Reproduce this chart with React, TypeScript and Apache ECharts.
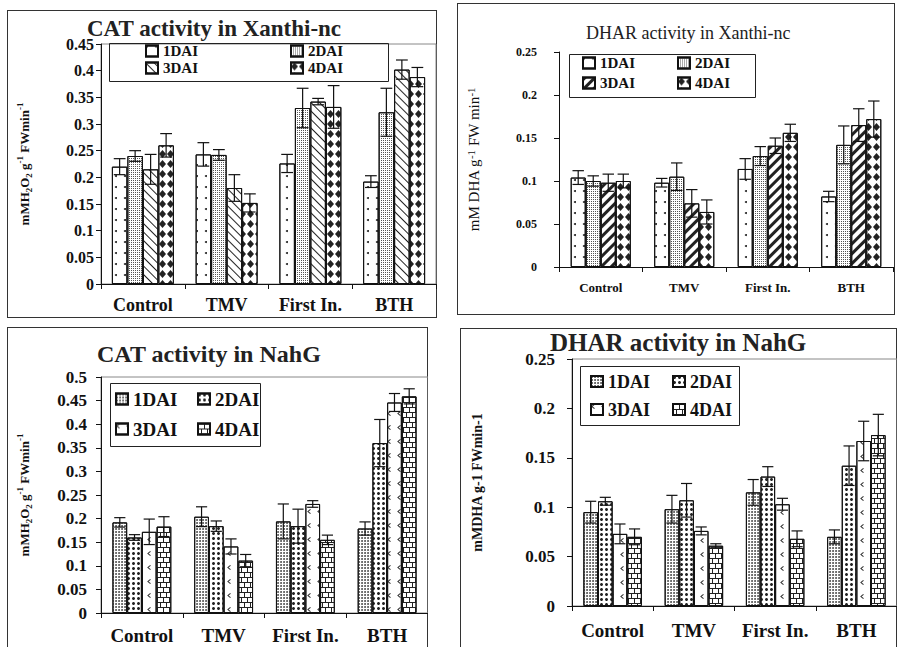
import React, { useEffect, useRef } from 'react';
import * as echarts from 'echarts';

// ---------- data ----------
const categories = ['Control', 'TMV', 'First In.', 'BTH'];
const seriesNames = ['1DAI', '2DAI', '3DAI', '4DAI'];

// CAT activity in Xanthi-nc (per series, across categories)
const catXanthiMeans = [
  [0.22, 0.243, 0.226, 0.192],
  [0.24, 0.242, 0.33, 0.322],
  [0.215, 0.18, 0.342, 0.402],
  [0.26, 0.152, 0.332, 0.388],
];
const catXanthiErrors = [
  [0.015, 0.022, 0.017, 0.011],
  [0.01, 0.01, 0.037, 0.045],
  [0.028, 0.025, 0.006, 0.018],
  [0.022, 0.017, 0.04, 0.018],
];

// DHAR activity in Xanthi-nc
const dharXanthiMeans = [
  [0.104, 0.098, 0.114, 0.082],
  [0.1, 0.105, 0.129, 0.142],
  [0.098, 0.074, 0.141, 0.165],
  [0.1, 0.064, 0.156, 0.172],
];
const dharXanthiErrors = [
  [0.008, 0.005, 0.012, 0.006],
  [0.006, 0.016, 0.011, 0.022],
  [0.01, 0.016, 0.009, 0.019],
  [0.008, 0.014, 0.01, 0.021],
];

// CAT activity in NahG
const catNahgMeans = [
  [0.192, 0.204, 0.194, 0.179],
  [0.16, 0.184, 0.184, 0.36],
  [0.172, 0.141, 0.231, 0.446],
  [0.183, 0.111, 0.155, 0.459],
];
const catNahgErrors = [
  [0.01, 0.021, 0.037, 0.014],
  [0.006, 0.011, 0.036, 0.05],
  [0.027, 0.016, 0.007, 0.019],
  [0.021, 0.013, 0.01, 0.016],
];

// DHAR activity in NahG
const dharNahgMeans = [
  [0.095, 0.098, 0.115, 0.07],
  [0.106, 0.107, 0.131, 0.142],
  [0.073, 0.076, 0.103, 0.167],
  [0.07, 0.061, 0.068, 0.173],
];
const dharNahgErrors = [
  [0.011, 0.014, 0.013, 0.007],
  [0.004, 0.017, 0.01, 0.02],
  [0.01, 0.004, 0.006, 0.02],
  [0.008, 0.002, 0.008, 0.021],
];

// ---------- styles ----------
const SERIF = 'Liberation Serif, Times New Roman, serif';

const dotsSparse = { symbol: 'circle', symbolSize: 1, dashArrayX: [2, 7], dashArrayY: [2, 9], color: '#222' };
const dotsDense = { symbol: 'rect', symbolSize: 1, dashArrayX: [1, 1], dashArrayY: [1, 1], color: '#555' };
const zigzag = { symbol: 'rect', symbolSize: 1, dashArrayX: [1, 0], dashArrayY: [1, 5], rotation: Math.PI / 4, color: '#222' };
const stripes = { symbol: 'rect', symbolSize: 1, dashArrayX: [1, 0], dashArrayY: [3, 4], rotation: -Math.PI / 4, color: '#222' };
const diamonds = { symbol: 'diamond', symbolSize: 1, dashArrayX: [7, 1], dashArrayY: [8, 2], color: '#222' };
const stipple = { symbol: 'circle', symbolSize: 0.9, dashArrayX: [2, 1], dashArrayY: [2, 1], color: '#444' };
const darkDots = { symbol: 'circle', symbolSize: 1, dashArrayX: [3, 2], dashArrayY: [3, 2], color: '#222' };
const chevrons = {
  symbol: 'path://M6,0 L0,5 L6,10 L7.5,8.7 L3,5 L7.5,1.3 Z',
  symbolSize: 1, dashArrayX: [4, 6], dashArrayY: [5, 9], color: '#333',
};
const bricks = {
  symbol: 'rect', symbolSize: 1,
  dashArrayX: [[1, 0], [1, 5], [1, 0], [0, 3, 1, 2]],
  dashArrayY: [1, 0, 4, 0, 1, 0, 4, 0],
  color: '#222',
};

type PanelCfg = {
  box: [number, number, number, number];
  title: string;
  titleLeft: number;
  titleTop: number;
  titleSize: number;
  titleWeight: string;
  yName: string;
  yNameSize: number;
  yNameWeight: string;
  yNameGap: number;
  yMax: number;
  grid: { left: number; top: number; right: number; bottom: number };
  gridBorder: boolean;
  tickSize: number;
  tickMargin: number;
  catSize: number;
  catMargin: number;
  legendSize: number;
  legendBox: [number, number, number, number];
  legendX: [number, number];
  legendY: [number, number];
  decals: any[];
  means: number[][];
  errors: number[][];
  catGap: number;
};

const panels: PanelCfg[] = [
  {
    box: [7, 10, 430, 308],
    title: 'CAT activity in Xanthi-nc',
    titleLeft: 80, titleTop: 7, titleSize: 23, titleWeight: 'bold',
    yName: 'mMH{sub|2}O{sub|2} g{sup|-1} FWmin{sup|-1}', yNameSize: 13, yNameWeight: 'bold', yNameGap: 68,
    yMax: 0.45,
    grid: { left: 90, top: 34, right: 1, bottom: 34 }, gridBorder: true,
    tickSize: 16, tickMargin: 7, catSize: 18, catMargin: 12,
    legendSize: 15, legendBox: [100, 31, 279, 38], legendX: [138, 283], legendY: [41, 58],
    decals: [dotsSparse, dotsDense, zigzag, diamonds],
    means: catXanthiMeans, errors: catXanthiErrors, catGap: 0.26,
  },
  {
    box: [457, 3, 438, 312],
    title: 'DHAR activity in Xanthi-nc',
    titleLeft: 129, titleTop: 21, titleSize: 18, titleWeight: 'normal',
    yName: 'mM DHA g{sup|-1} FW min{sup|-1}', yNameSize: 15, yNameWeight: 'normal', yNameGap: 76,
    yMax: 0.25,
    grid: { left: 100, top: 49, right: 2, bottom: 48 }, gridBorder: false,
    tickSize: 12, tickMargin: 22, catSize: 13, catMargin: 14,
    legendSize: 15, legendBox: [110, 49, 186, 43], legendX: [125, 220], legendY: [60, 80],
    decals: [dotsSparse, dotsDense, stripes, diamonds],
    means: dharXanthiMeans, errors: dharXanthiErrors, catGap: 0.28,
  },
  {
    box: [7, 327, 421, 320],
    title: 'CAT activity in NahG',
    titleLeft: 90, titleTop: 15, titleSize: 24, titleWeight: 'bold',
    yName: 'mMH{sub|2}O{sub|2} g{sup|-1} FWmin{sup|-1}', yNameSize: 13, yNameWeight: 'bold', yNameGap: 68,
    yMax: 0.5,
    grid: { left: 90, top: 50, right: 0, bottom: 34 }, gridBorder: true,
    tickSize: 17, tickMargin: 14, catSize: 19, catMargin: 13,
    legendSize: 19, legendBox: [101, 54, 150, 63], legendX: [108, 190], legendY: [70, 100],
    decals: [stipple, darkDots, chevrons, bricks],
    means: catNahgMeans, errors: catNahgErrors, catGap: 0.28,
  },
  {
    box: [460, 328, 437, 319],
    title: 'DHAR activity in NahG',
    titleLeft: 90, titleTop: 2, titleSize: 25, titleWeight: 'bold',
    yName: 'mMDHA g-1 FWmin-1', yNameSize: 14, yNameWeight: 'bold', yNameGap: 86,
    yMax: 0.25,
    grid: { left: 105, top: 31, right: 0, bottom: 41 }, gridBorder: true,
    tickSize: 17, tickMargin: 17, catSize: 19, catMargin: 15,
    legendSize: 18, legendBox: [118, 36, 159, 59], legendX: [130, 212], legendY: [52, 80],
    decals: [stipple, darkDots, chevrons, bricks],
    means: dharNahgMeans, errors: dharNahgErrors, catGap: 0.28,
  },
];

function buildOption(p: PanelCfg): any {
  const nSeries = seriesNames.length;
  const bars = seriesNames.map((name, i) => ({
    type: 'bar',
    name,
    data: p.means[i],
    barGap: '0%',
    barCategoryGap: `${Math.round(p.catGap * 100)}%`,
    itemStyle: { color: '#fff', borderColor: '#111', borderWidth: 1, decal: p.decals[i] },
    emphasis: { disabled: true },
  }));

  const errData: number[][] = [];
  seriesNames.forEach((_, si) => {
    categories.forEach((_, ci) => {
      errData.push([ci, p.means[si][ci], p.errors[si][ci], si]);
    });
  });

  const errSeries = {
    type: 'custom',
    name: 'error',
    z: 10,
    silent: true,
    encode: { x: 0, y: 1 },
    data: errData,
    renderItem: (params: any, api: any) => {
      const cat = api.value(0);
      const val = api.value(1);
      const err = api.value(2);
      const si = api.value(3);
      const band = api.size([1, 0])[0];
      const barW = (band * (1 - p.catGap)) / nSeries;
      const cx = api.coord([cat, 0])[0] + (si - (nSeries - 1) / 2) * barW;
      const top = api.coord([cat, val + err])[1];
      const bot = api.coord([cat, val - err])[1];
      const hw = barW * 0.38;
      const style = { stroke: '#111', lineWidth: 1.2 };
      return {
        type: 'group',
        children: [
          { type: 'line', shape: { x1: cx, y1: top, x2: cx, y2: bot }, style },
          { type: 'line', shape: { x1: cx - hw, y1: top, x2: cx + hw, y2: top }, style },
          { type: 'line', shape: { x1: cx - hw, y1: bot, x2: cx + hw, y2: bot }, style },
        ],
      };
    },
  };

  const lh = Math.min(p.legendSize, 15);
  const legends = seriesNames.map((name, i) => ({
    data: [name],
    left: p.legendX[i % 2],
    top: p.legendY[Math.floor(i / 2)] - lh / 2,
    padding: 0,
    icon: 'rect',
    itemWidth: 12,
    itemHeight: 11,
    itemGap: 5,
    selectedMode: false,
    textStyle: { fontFamily: SERIF, fontWeight: 'bold', fontSize: p.legendSize, color: '#111', lineHeight: lh },
  }));

  const richBase = { fontFamily: SERIF, fontWeight: p.yNameWeight, color: '#111' };

  return {
    animation: false,
    backgroundColor: 'transparent',
    textStyle: { fontFamily: SERIF },
    title: {
      text: p.title,
      left: p.titleLeft,
      top: p.titleTop,
      padding: 0,
      textStyle: { fontFamily: SERIF, fontWeight: p.titleWeight, fontSize: p.titleSize, color: '#222' },
    },
    legend: legends,
    graphic: [
      {
        type: 'rect',
        left: p.legendBox[0],
        top: p.legendBox[1],
        silent: true,
        shape: { width: p.legendBox[2], height: p.legendBox[3] },
        style: { fill: 'none', stroke: '#222', lineWidth: 1 },
      },
    ],
    grid: {
      ...p.grid,
      show: p.gridBorder,
      borderColor: '#888',
      borderWidth: p.gridBorder ? 1 : 0,
      backgroundColor: 'transparent',
    },
    xAxis: {
      type: 'category',
      data: categories,
      axisLine: { lineStyle: { color: '#111', width: 1 } },
      axisTick: { show: true, length: 5, lineStyle: { color: '#111' } },
      axisLabel: {
        fontFamily: SERIF, fontWeight: 'bold', fontSize: p.catSize, color: '#111', margin: p.catMargin,
        interval: 0,
      },
    },
    yAxis: {
      type: 'value',
      min: 0,
      max: p.yMax,
      interval: 0.05,
      name: p.yName,
      nameLocation: 'middle',
      nameGap: p.yNameGap,
      nameRotate: 90,
      nameTextStyle: {
        ...richBase,
        fontSize: p.yNameSize,
        lineHeight: 18,
        rich: {
          sup: { ...richBase, fontSize: Math.round(p.yNameSize * 0.7), lineHeight: 10, verticalAlign: 'top' },
          sub: { ...richBase, fontSize: Math.round(p.yNameSize * 0.7), lineHeight: 10, verticalAlign: 'bottom' },
        },
      },
      axisLine: { show: true, lineStyle: { color: '#111', width: 1 } },
      axisTick: { show: true, length: 5, lineStyle: { color: '#111' } },
      splitLine: { show: false },
      axisLabel: {
        fontFamily: SERIF, fontWeight: 'bold', fontSize: p.tickSize, color: '#111', margin: p.tickMargin,
        formatter: (v: number) => String(Number(v.toFixed(2))),
      },
    },
    series: [...bars, errSeries],
  };
}

export default function App() {
  const r0 = useRef<HTMLDivElement>(null);
  const r1 = useRef<HTMLDivElement>(null);
  const r2 = useRef<HTMLDivElement>(null);
  const r3 = useRef<HTMLDivElement>(null);
  const refs = [r0, r1, r2, r3];

  useEffect(() => {
    const charts = refs.map((r, i) => {
      const c = echarts.init(r.current as HTMLDivElement, undefined, { renderer: 'svg' });
      c.setOption(buildOption(panels[i]));
      return c;
    });
    return () => charts.forEach((c) => c.dispose());
  }, []);

  return (
    <div style={{ position: 'fixed', left: 0, top: 0, width: 899, height: 647, background: '#fff', overflow: 'hidden' }}>
      {panels.map((p, i) => (
        <React.Fragment key={i}>
          <div
            style={{
              position: 'absolute', left: p.box[0], top: p.box[1], width: p.box[2], height: p.box[3] + (i >= 2 ? 10 : 0),
              border: '1px solid #333', boxSizing: 'border-box', pointerEvents: 'none',
            }}
          />
          <div
            ref={refs[i]}
            style={{ position: 'absolute', left: p.box[0], top: p.box[1], width: p.box[2], height: p.box[3] }}
          />
        </React.Fragment>
      ))}
    </div>
  );
}
